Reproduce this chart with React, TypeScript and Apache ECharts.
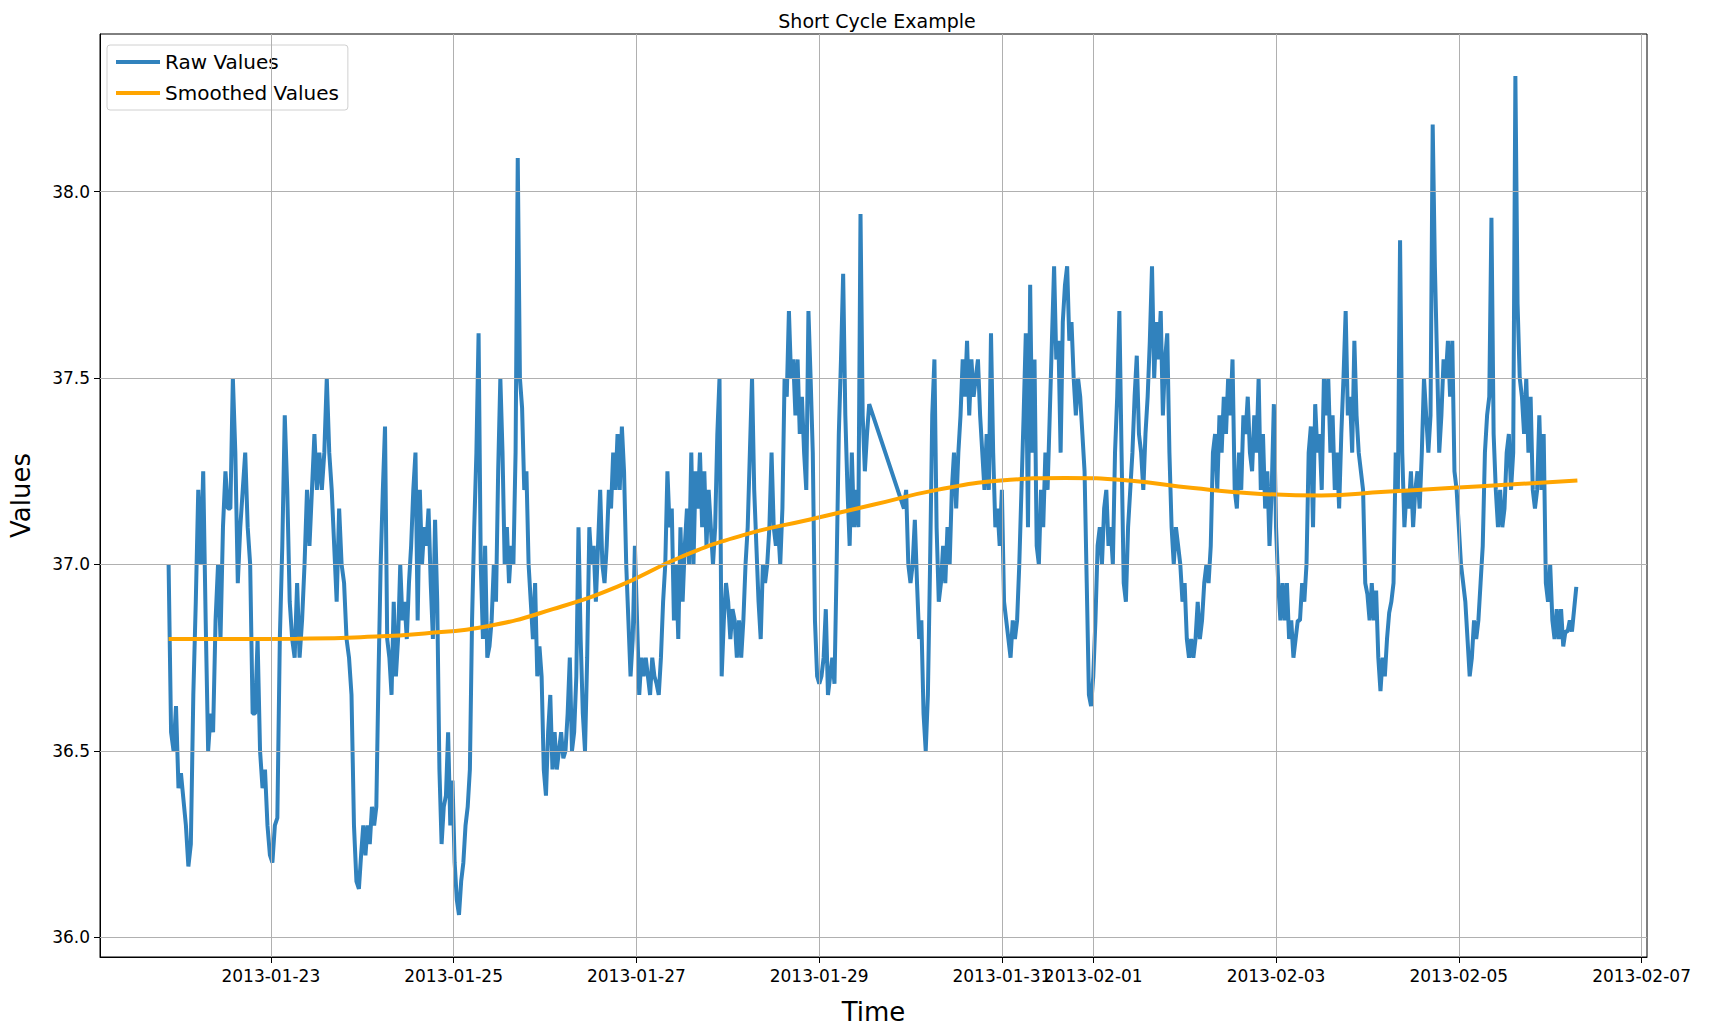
import React, { useEffect, useRef } from "react";
import * as echarts from "echarts";

// anchors: [index into values, timestamp]
const seg1Anchors: [number, string][] = [
  [0, "2013-01-21T21:09:00"],
  [77, "2013-01-23T23:08:00"],
  [150, "2013-01-25T16:51:00"],
  [312, "2013-01-29T13:09:00"],
];
const seg2Anchors: [number, string][] = [
  [0, "2013-01-29T22:17:00"],
  [309, "2013-02-06T06:52:00"],
];

const rawSeg1 = [
  37.0, 36.55, 36.5, 36.62, 36.4, 36.44, 36.37, 36.3, 36.19, 36.25, 36.65, 36.9, 37.2, 37.0, 37.25, 36.85, 36.5, 36.6, 36.55, 36.85,
  37.0, 36.8, 37.1, 37.25, 37.15, 37.15, 37.5, 37.3, 36.95, 37.1, 37.2, 37.3, 37.1, 37.0, 36.6, 36.6, 36.8, 36.5, 36.4, 36.45,
  36.3, 36.22, 36.2, 36.3, 36.32, 36.8, 37.05, 37.4, 37.2, 36.9, 36.8, 36.75, 36.95, 36.75, 36.85, 37.0, 37.2, 37.05, 37.2, 37.35,
  37.2, 37.3, 37.2, 37.3, 37.5, 37.3, 37.2, 37.05, 36.9, 37.15, 37.0, 36.95, 36.8, 36.75, 36.65, 36.3, 36.15, 36.13, 36.22, 36.3,
  36.22, 36.3, 36.25, 36.35, 36.3, 36.35, 36.7, 37.0, 37.2, 37.37, 36.8, 36.75, 36.65, 36.9, 36.7, 36.8, 37.0, 36.85, 36.9, 36.8,
  36.95, 37.05, 37.2, 37.3, 36.85, 37.2, 37.0, 37.1, 37.05, 37.15, 36.95, 36.8, 37.12, 36.9, 36.45, 36.25, 36.35, 36.38, 36.55, 36.3,
  36.42, 36.2, 36.1, 36.06, 36.15, 36.2, 36.3, 36.35, 36.45, 36.85, 37.1, 37.3, 37.62, 37.0, 36.8, 37.05, 36.75, 36.78, 36.85, 37.0,
  36.9, 37.25, 37.5, 37.3, 37.0, 37.1, 36.95, 37.05, 37.0, 37.3, 38.09, 37.5, 37.42, 37.2, 37.25, 37.0, 36.9, 36.8, 36.95, 36.7,
  36.78, 36.7, 36.45, 36.38, 36.55, 36.65, 36.45, 36.55, 36.45, 36.5, 36.55, 36.48, 36.5, 36.6, 36.75, 36.5, 36.55, 36.7, 37.1, 36.8,
  36.6, 36.5, 36.75, 37.1, 37.0, 37.05, 36.9, 37.05, 37.2, 37.0, 36.95, 37.05, 37.2, 37.15, 37.3, 37.2, 37.35, 37.2, 37.37, 37.25,
  37.0, 36.85, 36.7, 36.8, 37.05, 36.85, 36.65, 36.75, 36.7, 36.75, 36.7, 36.65, 36.75, 36.7, 36.68, 36.65, 36.75, 36.9, 37.0, 37.25,
  37.1, 37.15, 36.85, 37.0, 36.8, 37.1, 36.9, 37.05, 37.15, 37.0, 37.3, 37.0, 37.25, 37.15, 37.3, 37.1, 37.25, 37.05, 37.2, 37.1,
  37.0, 37.1, 37.35, 37.5, 36.7, 36.85, 36.95, 36.9, 36.8, 36.88, 36.85, 36.75, 36.85, 36.75, 36.85, 37.0, 37.1, 37.3, 37.5, 37.2,
  37.05, 36.9, 36.8, 37.0, 36.95, 37.0, 37.1, 37.3, 37.1, 37.05, 37.1, 37.0, 37.15, 37.5, 37.45, 37.68, 37.5, 37.55, 37.4, 37.55,
  37.35, 37.45, 37.3, 37.2, 37.68, 37.5, 37.3, 36.85, 36.7, 36.68, 36.7, 36.75, 36.88, 36.65, 36.7, 36.75, 36.68, 37.0, 37.35, 37.55,
  37.78, 37.4, 37.2, 37.05, 37.3, 37.1, 37.2, 37.1, 37.94, 37.4, 37.25, 37.35, 37.43,
];

const rawSeg2 = [
  37.15, 37.2, 37.0, 36.95, 37.0, 37.12, 36.95, 36.8, 36.85, 36.6, 36.5, 36.65, 37.0, 37.4, 37.55, 37.1, 36.9, 36.95, 37.05, 36.95,
  37.1, 37.0, 37.2, 37.3, 37.15, 37.3, 37.4, 37.55, 37.45, 37.6, 37.4, 37.55, 37.45, 37.5, 37.55, 37.4, 37.3, 37.2, 37.35, 37.2,
  37.62, 37.3, 37.1, 37.15, 37.05, 37.2, 36.9, 36.85, 36.8, 36.75, 36.85, 36.8, 36.85, 37.0, 37.2, 37.4, 37.62, 37.1, 37.75, 37.3,
  37.55, 37.05, 37.0, 37.2, 37.1, 37.3, 37.2, 37.4, 37.6, 37.8, 37.55, 37.6, 37.3, 37.65, 37.75, 37.8, 37.6, 37.65, 37.5, 37.4,
  37.5, 37.45, 37.35, 37.25, 36.95, 36.65, 36.62, 36.7, 36.85, 37.05, 37.1, 37.0, 37.15, 37.2, 37.05, 37.1, 37.0, 37.3, 37.45, 37.68,
  37.3, 36.95, 36.9, 37.1, 37.2, 37.3, 37.45, 37.56, 37.35, 37.3, 37.2, 37.35, 37.45, 37.6, 37.8, 37.5, 37.65, 37.55, 37.68, 37.4,
  37.55, 37.62, 37.3, 37.1, 37.0, 37.1, 37.05, 37.0, 36.9, 36.95, 36.8, 36.75, 36.8, 36.75, 36.8, 36.9, 36.8, 36.85, 36.95, 37.0,
  36.95, 37.05, 37.3, 37.35, 37.2, 37.4, 37.3, 37.45, 37.35, 37.5, 37.4, 37.55, 37.2, 37.15, 37.3, 37.2, 37.4, 37.35, 37.45, 37.3,
  37.25, 37.4, 37.3, 37.5, 37.2, 37.35, 37.15, 37.25, 37.05, 37.2, 37.43, 37.1, 36.95, 36.85, 36.95, 36.85, 36.95, 36.8, 36.85, 36.75,
  36.8, 36.85, 36.85, 36.95, 36.9, 37.0, 37.3, 37.37, 37.1, 37.43, 37.3, 37.35, 37.2, 37.5, 37.4, 37.5, 37.3, 37.4, 37.2, 37.3,
  37.15, 37.35, 37.5, 37.68, 37.4, 37.45, 37.3, 37.6, 37.4, 37.3, 37.25, 37.2, 36.95, 36.92, 36.85, 36.95, 36.85, 36.93, 36.75, 36.66,
  36.75, 36.7, 36.8, 36.87, 36.9, 36.95, 37.3, 37.2, 37.87, 37.3, 37.1, 37.2, 37.15, 37.25, 37.1, 37.2, 37.25, 37.15, 37.3, 37.5,
  37.4, 37.3, 37.4, 38.18, 37.8, 37.55, 37.3, 37.4, 37.55, 37.5, 37.6, 37.45, 37.6, 37.25, 37.2, 37.1, 37.0, 36.95, 36.9, 36.8,
  36.7, 36.75, 36.85, 36.8, 36.85, 36.95, 37.05, 37.3, 37.4, 37.45, 37.93, 37.35, 37.2, 37.1, 37.2, 37.1, 37.15, 37.3, 37.35, 37.2,
  37.3, 38.31, 37.7, 37.5, 37.45, 37.35, 37.5, 37.3, 37.45, 37.2, 37.15, 37.2, 37.4, 37.2, 37.35, 36.95, 36.9, 37.0, 36.85, 36.8,
  36.88, 36.8, 36.88, 36.78, 36.82, 36.82, 36.85, 36.82, 36.88, 36.94,
];

const smoothStart = "2013-01-21T21:09:00";
const smoothEnd = "2013-02-06T07:09:00";
const smoothValues = [36.8, 36.8, 36.801, 36.805, 36.815, 36.835, 36.88, 36.94, 37.02, 37.08, 37.12, 37.16, 37.2, 37.225, 37.232, 37.225, 37.205, 37.19, 37.185, 37.195, 37.205, 37.215, 37.225];

const xTickDates = ["2013-01-23", "2013-01-25", "2013-01-27", "2013-01-29", "2013-01-31", "2013-02-01", "2013-02-03", "2013-02-05", "2013-02-07"];
const yTicks = [36.0, 36.5, 37.0, 37.5, 38.0];

const xMin = "2013-01-21T03:08:00";
const xMax = "2013-02-07T01:26:00";
const yMin = 35.947;
const yMax = 38.423;

function placeByAnchors(anchors: [number, string][], vals: number[]) {
  const pts = anchors.map(([i, s]) => [i, new Date(s).getTime()]);
  return vals.map((v, i) => {
    let k = 0;
    while (k < pts.length - 2 && i > pts[k + 1][0]) k++;
    const [i0, t0] = pts[k];
    const [i1, t1] = pts[k + 1];
    return [t0 + ((t1 - t0) * (i - i0)) / (i1 - i0), v];
  });
}

function spread(startStr: string, endStr: string, vals: number[]) {
  return placeByAnchors([[0, startStr], [vals.length - 1, endStr]], vals);
}

const dayTs = (s: string) => new Date(s + "T00:00:00").getTime();
const pad = (n: number) => (n < 10 ? "0" + n : "" + n);
const fmtDate = (t: number) => {
  const d = new Date(t);
  return d.getFullYear() + "-" + pad(d.getMonth() + 1) + "-" + pad(d.getDate());
};

export default function App() {
  const ref = useRef<HTMLDivElement>(null);
  useEffect(() => {
    document.body.style.margin = "0";
    const chart = echarts.init(ref.current!, null, { renderer: "svg" });
    const rawData = [...placeByAnchors(seg1Anchors, rawSeg1), ...placeByAnchors(seg2Anchors, rawSeg2)];
    const smoothData = spread(smoothStart, smoothEnd, smoothValues);
    const xTicks = xTickDates.map(dayTs);
    const gridStyle = { color: "#b0b0b0", width: 1, type: "solid" as const };
    chart.setOption({
      animation: false,
      textStyle: { fontFamily: "DejaVu Sans" },
      title: {
        text: "Short Cycle Example",
        left: 872,
        top: 6,
        textAlign: "center",
        textStyle: { fontSize: 19, fontWeight: "normal", color: "#000" },
      },
      legend: {
        left: 107,
        top: 45,
        orient: "vertical",
        padding: [7, 9, 7, 9],
        itemGap: 11,
        itemWidth: 44,
        itemHeight: 4,
        icon: "rect",
        borderColor: "#d0d0d0",
        borderWidth: 1,
        borderRadius: 3,
        textStyle: { fontSize: 20, color: "#000" },
        data: ["Raw Values", "Smoothed Values"],
      },
      grid: {
        left: 97,
        right: 62,
        top: 34,
        bottom: 72,
        show: true,
        borderColor: "#000",
        borderWidth: 1,
      },
      xAxis: {
        type: "value",
        min: new Date(xMin).getTime(),
        max: new Date(xMax).getTime(),
        name: "Time",
        nameLocation: "middle",
        nameGap: 42,
        nameTextStyle: { fontSize: 26, color: "#000" },
        axisLine: { show: true, lineStyle: { color: "#000" } },
        axisTick: { show: true, customValues: xTicks, length: 6, lineStyle: { color: "#000" } },
        axisLabel: {
          customValues: xTicks,
          formatter: (v: number) => fmtDate(v),
          fontSize: 17,
          color: "#000",
          margin: 10,
        },
        splitLine: { show: false },
      },
      yAxis: {
        type: "value",
        min: yMin,
        max: yMax,
        name: "Values",
        nameLocation: "middle",
        nameGap: 66,
        nameTextStyle: { fontSize: 26, color: "#000" },
        axisLine: { show: true, lineStyle: { color: "#000" } },
        axisTick: { show: true, customValues: yTicks, length: 6, lineStyle: { color: "#000" } },
        axisLabel: {
          customValues: yTicks,
          formatter: (v: number) => v.toFixed(1),
          fontSize: 17,
          color: "#000",
          margin: 10,
        },
        splitLine: { show: false },
      },
      series: [
        {
          name: "grid",
          type: "line",
          data: [],
          silent: true,
          markLine: {
            silent: true,
            symbol: "none",
            label: { show: false },
            lineStyle: gridStyle,
            data: [...xTicks.map((t) => ({ xAxis: t })), ...yTicks.map((v) => ({ yAxis: v }))],
          },
        },
        {
          name: "Raw Values",
          type: "line",
          data: rawData,
          showSymbol: false,
          lineStyle: { color: "#3182bd", width: 4 },
          itemStyle: { color: "#3182bd" },
        },
        {
          name: "Smoothed Values",
          type: "line",
          data: smoothData,
          smooth: true,
          showSymbol: false,
          lineStyle: { color: "#ffa500", width: 4 },
          itemStyle: { color: "#ffa500" },
        },
      ],
    });
    return () => chart.dispose();
  }, []);
  return <div ref={ref} style={{ width: 1709, height: 1030 }} />;
}
